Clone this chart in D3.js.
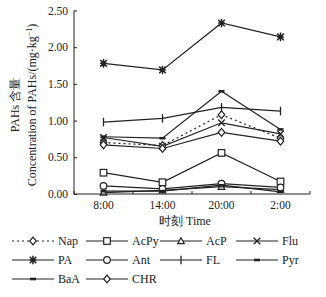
<!DOCTYPE html>
<html>
<head>
<meta charset="utf-8">
<script src="https://cdn.jsdelivr.net/npm/d3@7"></script>
<style>
  body { margin: 0; background: #fff; }
  text { font-family: "Liberation Serif", "DejaVu Serif", serif; fill: #222; }
</style>
</head>
<body>
<div id="chart"></div>
<script>
// categories and tick labels
var times = ['8:00', '14:00', '20:00', '2:00'];
var yTicks = [0, 0.5, 1.0, 1.5, 2.0, 2.5];

// series values (mg/kg)
var nap  = [0.70, 0.66, 1.08, 0.76];
var acpy = [0.29, 0.16, 0.56, 0.17];
var acp  = [0.02, 0.05, 0.10, 0.06];
var flu  = [0.77, 0.65, 0.97, 0.82];
var pa   = [1.78, 1.69, 2.33, 2.14];
var ant  = [0.11, 0.07, 0.14, 0.09];
var fl   = [0.98, 1.03, 1.18, 1.13];
var pyr  = [0.78, 0.76, 1.40, 0.88];
var baa  = [0.04, 0.04, 0.12, 0.03];
var chr  = [0.67, 0.62, 0.84, 0.72];

var seriesNames = ['Nap', 'AcPy', 'AcP', 'Flu', 'PA', 'Ant', 'FL', 'Pyr', 'BaA', 'CHR'];
var seriesVals = [nap, acpy, acp, flu, pa, ant, fl, pyr, baa, chr];
var seriesMark = ['diamond', 'square', 'triangle', 'x', 'star', 'circle', 'plus', 'dash', 'dash', 'diamond'];

var chart_width = 326, chart_height = 297;
var pLeft = 74, pRight = 310, pTop = 10.5, pBottom = 194;
var ink = '#222';

var svg = d3.select('#chart').append('svg')
    .attr('width', chart_width)
    .attr('height', chart_height);

var xScale = d3.scaleBand().domain(times).range([pLeft, pRight]);
var yScale = d3.scaleLinear().domain([0, 2.5]).range([pBottom, pTop]);

function cx(i) { return xScale(times[i]) + xScale.bandwidth() / 2; }

// draw a marker at (x, y)
function marker(g, type, x, y) {
    var s = 3.3;
    if (type === 'diamond') {
        g.append('path').attr('d', 'M' + x + ',' + (y - s - 0.6) + 'L' + (x + s) + ',' + y + 'L' + x + ',' + (y + s + 0.6) + 'L' + (x - s) + ',' + y + 'Z')
            .attr('fill', '#fff').attr('stroke', ink).attr('stroke-width', 1.2);
    } else if (type === 'square') {
        g.append('rect').attr('x', x - s).attr('y', y - s).attr('width', 2 * s).attr('height', 2 * s)
            .attr('fill', '#fff').attr('stroke', ink).attr('stroke-width', 1.2);
    } else if (type === 'triangle') {
        g.append('path').attr('d', 'M' + x + ',' + (y - s) + 'L' + (x + s) + ',' + (y + s * 0.8) + 'L' + (x - s) + ',' + (y + s * 0.8) + 'Z')
            .attr('fill', '#fff').attr('stroke', ink).attr('stroke-width', 1.2);
    } else if (type === 'circle') {
        g.append('circle').attr('cx', x).attr('cy', y).attr('r', s)
            .attr('fill', '#fff').attr('stroke', ink).attr('stroke-width', 1.2);
    } else if (type === 'x') {
        g.append('path').attr('d', 'M' + (x - s) + ',' + (y - s) + 'L' + (x + s) + ',' + (y + s) + 'M' + (x + s) + ',' + (y - s) + 'L' + (x - s) + ',' + (y + s))
            .attr('stroke', ink).attr('stroke-width', 1.3);
    } else if (type === 'star') {
        g.append('path').attr('d', 'M' + (x - s) + ',' + (y - s) + 'L' + (x + s) + ',' + (y + s) + 'M' + (x + s) + ',' + (y - s) + 'L' + (x - s) + ',' + (y + s)
            + 'M' + x + ',' + (y - s - 1) + 'L' + x + ',' + (y + s + 1) + 'M' + (x - s) + ',' + y + 'L' + (x + s) + ',' + y)
            .attr('stroke', ink).attr('stroke-width', 1.5);
    } else if (type === 'plus') {
        g.append('path').attr('d', 'M' + x + ',' + (y - s - 1) + 'L' + x + ',' + (y + s + 1))
            .attr('stroke', ink).attr('stroke-width', 1.3);
    } else if (type === 'dash') {
        g.append('rect').attr('x', x - 3).attr('y', y - 1.3).attr('width', 6).attr('height', 2.6).attr('fill', ink);
    }
}

// lines
var line = d3.line()
    .x(function(d, i) { return cx(i); })
    .y(function(d) { return yScale(d); });

var plot = svg.append('g');
seriesVals.forEach(function(vals, k) {
    plot.append('path')
        .attr('d', line(vals))
        .attr('fill', 'none')
        .attr('stroke', ink)
        .attr('stroke-width', 1.2)
        .attr('stroke-dasharray', seriesNames[k] === 'Nap' ? '2,3' : null);
});
seriesVals.forEach(function(vals, k) {
    vals.forEach(function(v, i) {
        marker(plot, seriesMark[k], cx(i), yScale(v));
    });
});

// axes
var yAxis = svg.append('g')
    .attr('transform', 'translate(' + pLeft + ',0)')
    .call(d3.axisRight(yScale).tickValues(yTicks).tickSize(3).tickFormat(d3.format('.2f')));
yAxis.select('.domain').attr('stroke', ink).attr('d', 'M0,' + pTop + 'V' + pBottom);
yAxis.selectAll('line').attr('stroke', ink);
yAxis.selectAll('text').attr('x', -6).attr('text-anchor', 'end').style('font-size', '11.5px');

var xAxis = svg.append('g')
    .attr('transform', 'translate(0,' + pBottom + ')');
xAxis.append('line').attr('x1', pLeft).attr('x2', pRight).attr('stroke', ink);
xAxis.selectAll('.tk')
    .data(xScale.domain().map(function(d) { return xScale(d); }).concat([pRight]))
    .enter().append('line')
    .attr('x1', function(d) { return d; }).attr('x2', function(d) { return d; })
    .attr('y1', 0).attr('y2', -3).attr('stroke', ink);
xAxis.selectAll('.lbl')
    .data(times)
    .enter().append('text')
    .attr('x', function(d) { return xScale(d) + xScale.bandwidth() / 2; })
    .attr('y', 15)
    .attr('text-anchor', 'middle')
    .style('font-size', '11.5px')
    .text(function(d) { return d; });

svg.append('text')
    .attr('x', 185).attr('y', 224.5)
    .attr('text-anchor', 'middle')
    .style('font-size', '12px')
    .text('时刻 Time');

// y title
var yt = svg.append('g').attr('transform', 'translate(0,' + 105 + ') rotate(-90)');
yt.append('text').attr('x', 0).attr('y', 19).attr('text-anchor', 'middle').style('font-size', '12px').text('PAHs 含量');
yt.append('text').attr('x', 0).attr('y', 36).attr('text-anchor', 'middle').style('font-size', '12px')
    .html('Concentration of PAHs/(mg·kg<tspan dy="-4" font-size="8px">−1</tspan><tspan dy="4">)</tspan>');

// legend
var legX = [12, 86, 160, 236];
var legY = [241, 260, 279];
var leg = svg.append('g');
seriesNames.forEach(function(name, k) {
    var x0 = legX[k % 4], y0 = legY[Math.floor(k / 4)];
    leg.append('line')
        .attr('x1', x0).attr('x2', x0 + 42).attr('y1', y0).attr('y2', y0)
        .attr('stroke', ink).attr('stroke-width', 1.2)
        .attr('stroke-dasharray', name === 'Nap' ? '2,3' : null);
    marker(leg, seriesMark[k], x0 + 21, y0);
    leg.append('text')
        .attr('x', x0 + 46).attr('y', y0 + 4)
        .style('font-size', '12px')
        .text(name);
});
</script>
</body>
</html>
